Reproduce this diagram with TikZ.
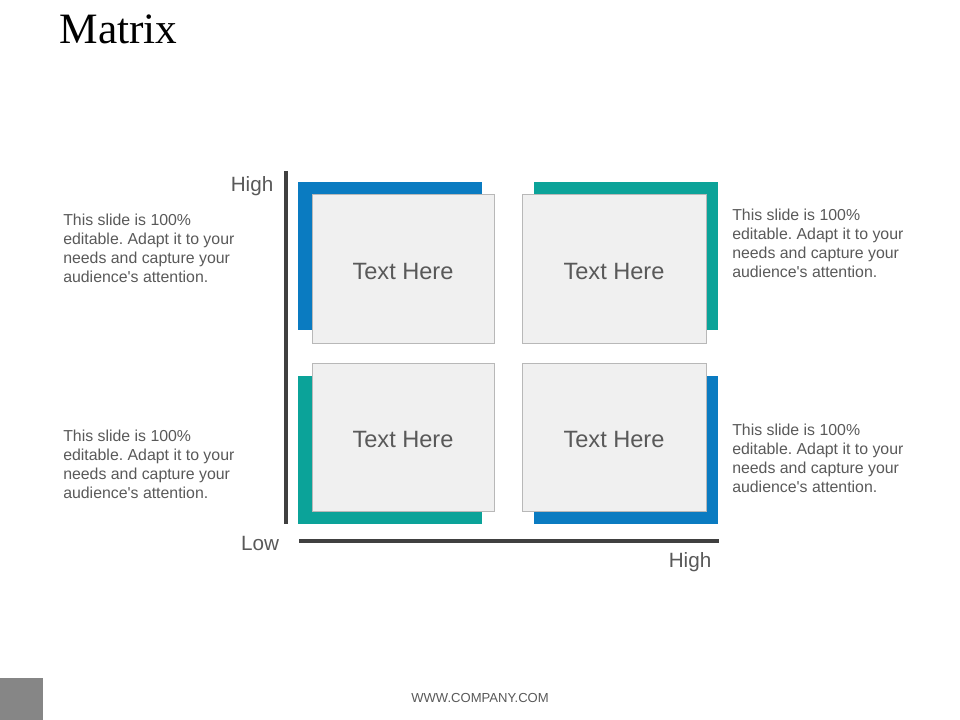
\documentclass[tikz,border=0pt]{standalone}
\usepackage{fontspec}
\setmainfont[Mapping=]{Liberation Sans}
\newfontfamily\titlefont{Liberation Serif}
\frenchspacing
\definecolor{mblue}{HTML}{0A7BC1}
\definecolor{mteal}{HTML}{0BA399}
\definecolor{boxgray}{HTML}{F0F0F0}
\definecolor{edgegray}{HTML}{B8B8B8}
\definecolor{txtgray}{HTML}{595959}
\definecolor{axisgray}{HTML}{404040}
\begin{document}
\begin{tikzpicture}[x=0.75pt,y=-0.75pt,
    cell/.style={draw=edgegray,fill=boxgray,line width=0.75pt},
    celltext/.style={text=txtgray,font=\fontsize{17.7}{21}\selectfont},
    note/.style={anchor=north west,align=left,text=txtgray,inner sep=0pt,
      font=\fontsize{11.9}{14.3}\selectfont},
    axislabel/.style={text=txtgray,font=\fontsize{15.5}{18}\selectfont},
    axis/.style={draw=axisgray,line width=2.4pt}]
  \useasboundingbox (0,0) rectangle (960,720);
  % title
  \node[anchor=west,font=\titlefont\fontsize{32.5}{38}\selectfont] (title) at (55,29) {Matrix};
  % axes
  \coordinate (vtop) at (286,171);
  \coordinate (vbot) at (286,524);
  \coordinate (hleft) at (299,541);
  \coordinate (hright) at (719,541);
  \draw[axis] (vtop) -- (vbot);
  \draw[axis] (hleft) -- (hright);
  \node[axislabel] (yhigh) at (252,186) {High};
  \node[axislabel] (low) at (260,543) {Low};
  \node[axislabel] (xhigh) at (690,562) {High};
  % coloured backs
  \fill[mblue] (298,182) rectangle (482,330);
  \fill[mteal] (534,182) rectangle (718,330);
  \fill[mteal] (298,376) rectangle (482,524);
  \fill[mblue] (534,376) rectangle (718,524);
  % cells
  \draw[cell] (312,195) rectangle (494,343);
  \draw[cell] (522,195) rectangle (706,343);
  \draw[cell] (312,363) rectangle (494,511);
  \draw[cell] (522,363) rectangle (706,511);
  \node[celltext] (tl) at (403,271) {Text Here};
  \node[celltext] (tr) at (614,271) {Text Here};
  \node[celltext] (bl) at (403,439) {Text Here};
  \node[celltext] (br) at (614,439) {Text Here};
  % notes
  \node[note] (ntl) at (63,214) {This slide is 100\%\\editable. Adapt it to your\\needs and capture your\\audience's attention.};
  \node[note] (nbl) at (63,430) {This slide is 100\%\\editable. Adapt it to your\\needs and capture your\\audience's attention.};
  \node[note] (ntr) at (732,209) {This slide is 100\%\\editable. Adapt it to your\\needs and capture your\\audience's attention.};
  \node[note] (nbr) at (732,424) {This slide is 100\%\\editable. Adapt it to your\\needs and capture your\\audience's attention.};
  % footer
  \fill[gray!95] (0,678) rectangle (43,720);
  \node[text=txtgray,font=\fontsize{9.8}{11}\selectfont] (footer) at (480,698) {WWW.COMPANY.COM};
\end{tikzpicture}
\end{document}
